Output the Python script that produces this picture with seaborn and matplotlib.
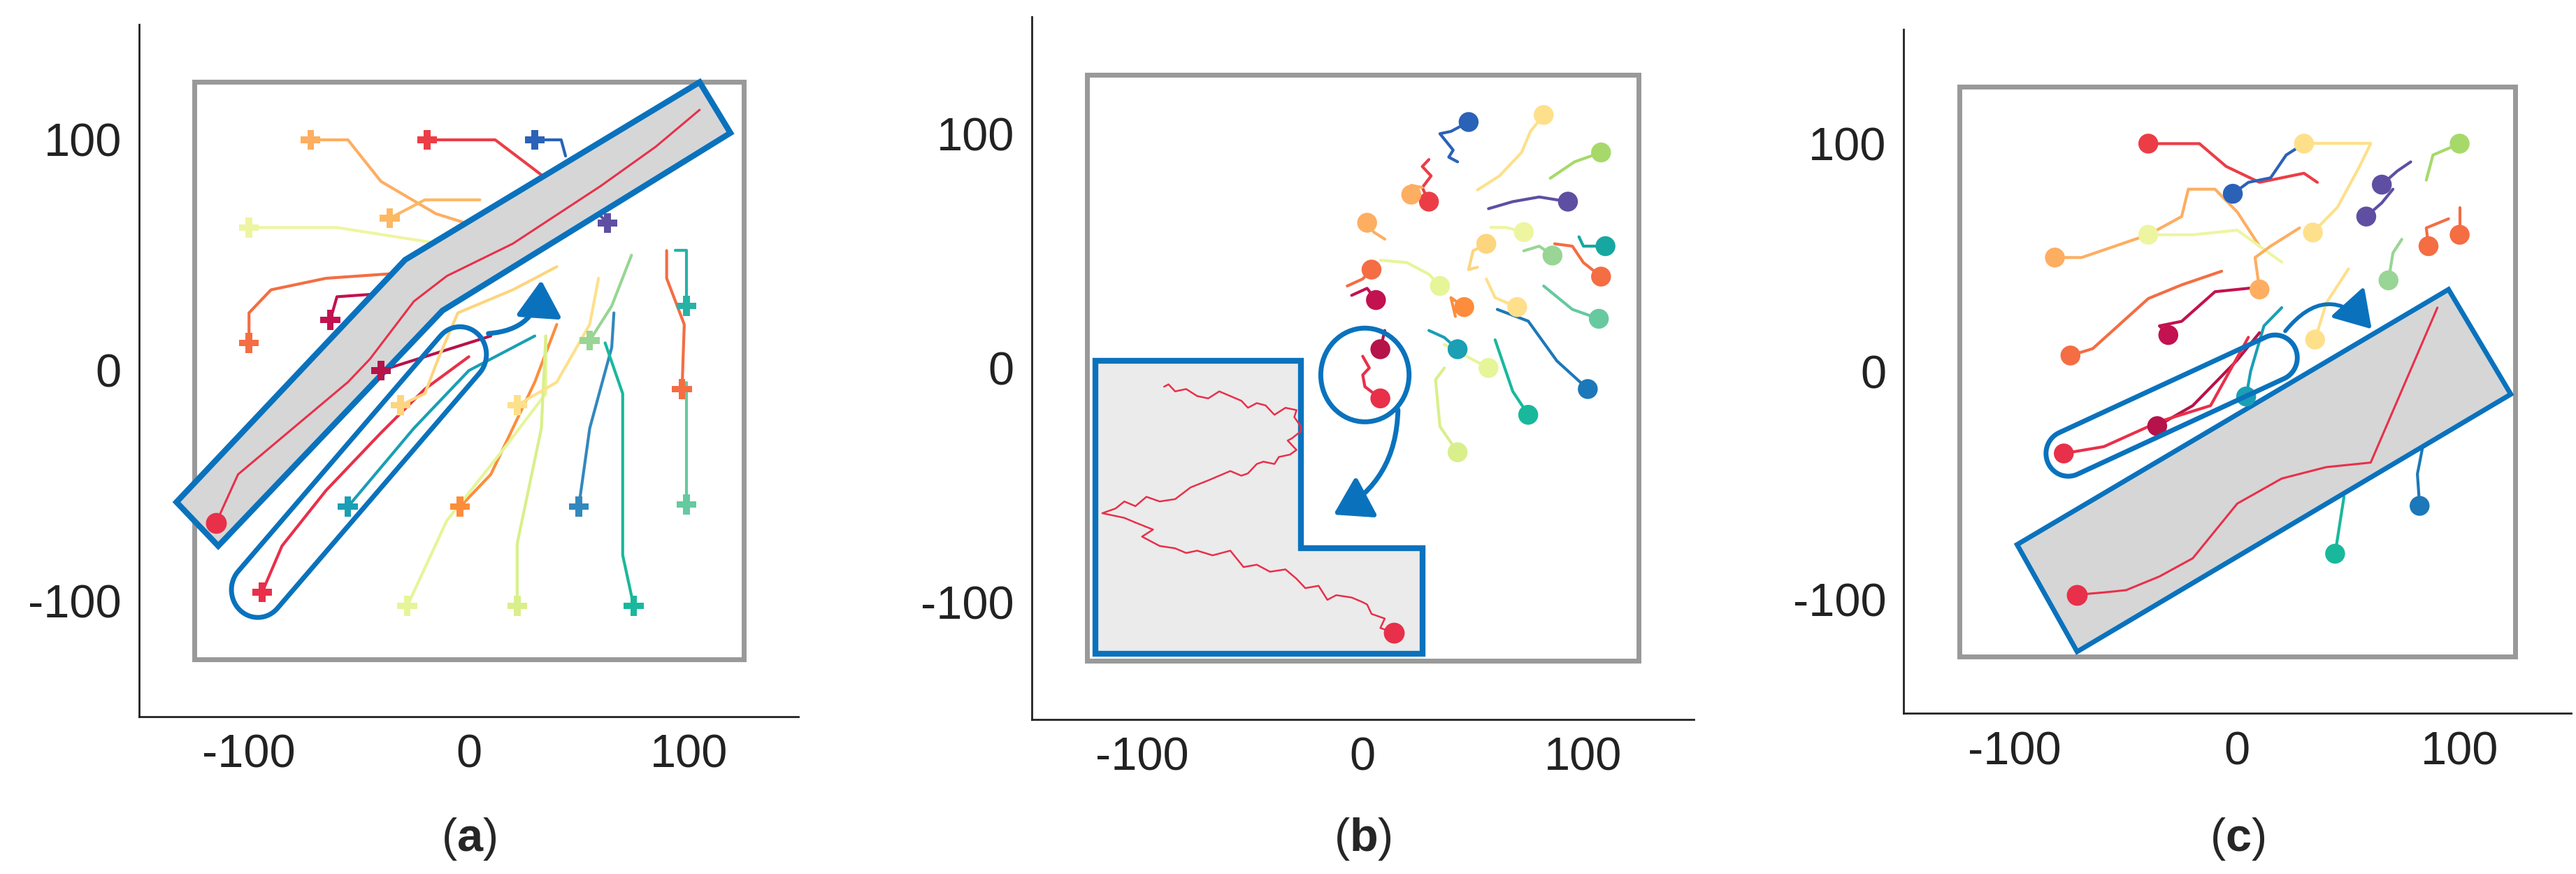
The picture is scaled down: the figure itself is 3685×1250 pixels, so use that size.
import numpy as np
import pandas as pd
import matplotlib.pyplot as plt
import seaborn as sns
from matplotlib.patches import Rectangle, Polygon, Circle, FancyArrowPatch

sns.set_style('white')
plt.rcParams['font.family'] = ['Liberation Sans', 'DejaVu Sans']
plt.rcParams['axes.unicode_minus'] = False
plt.rcParams['mathtext.fontset'] = 'custom'
plt.rcParams['mathtext.bf'] = 'Liberation Sans:bold'
plt.rcParams['mathtext.rm'] = 'Liberation Sans'

BLUE = '#0a72bd'

# ---- panel (a): trajectories, start point first (plus marker)
traj_a = [
    ('#fdae61', [(-72, 100), (-55, 100), (-40, 82), (-15, 68), (5, 62)]),
    ('#ec3d46', [(-19, 100), (12, 100), (30, 87), (45, 76)]),
    ('#2a62b8', [(30, 100), (42, 100), (44, 93)]),
    ('#eef5a0', [(-100, 62), (-60, 62), (-20, 56), (5, 52)]),
    ('#fdb863', [(-36, 66), (-20, 74), (5, 74)]),
    ('#5e4fa2', [(63, 64), (55, 72)]),
    ('#f46d43', [(-100, 12), (-100, 25), (-90, 35), (-65, 40), (-35, 42)]),
    ('#c2124f', [(-63, 22), (-60, 32), (-45, 33)]),
    ('#e8304a', [(-94, -96), (-85, -76), (-65, -52), (-40, -27), (-20, -8), (0, 6)]),
    ('#b5134a', [(-40, 0), (-20, 6), (10, 15)]),
    ('#fdd57e', [(-31, -15), (-20, -10), (-14, 5), (-5, 25), (20, 35), (40, 45)]),
    ('#1a9fb5', [(-55, -59), (-25, -25), (0, 0), (30, 15)]),
    ('#fd8d3c', [(-4, -59), (10, -45), (30, -5), (40, 20)]),
    ('#e6f598', [(-28, -102), (-10, -65), (15, -35), (35, -10), (35, 15)]),
    ('#d9ef8b', [(22, -102), (22, -75), (33, -25), (35, 15)]),
    ('#fee08b', [(22, -15), (40, -5), (55, 20), (59, 40)]),
    ('#3288bd', [(50, -59), (55, -25), (65, 10), (66, 25)]),
    ('#19b89c', [(75, -102), (70, -80), (70, -10), (62, 12)]),
    ('#99d594', [(55, 13), (65, 28), (74, 50)]),
    ('#f46d43', [(97, -8), (98, 20), (90, 40), (90, 52)]),
    ('#26b3a6', [(99, 28), (99, 52), (94, 52)]),
    ('#66c9a0', [(99, -58), (99, -5)]),
]
main_a = [(-115, -66), (-105, -45), (-80, -25), (-55, -5), (-45, 5), (-25, 30), (-10, 41),
          (20, 55), (60, 80), (85, 97), (105, 113)]
band_a = [(-133, -57), (-114, -76), (-12, 26), (119, 103), (105, 125), (-29, 48)]

# ---- panel (b): trajectories, end point first (dot marker)
traj_b = [
    ('#2a62b8', [(48, 105), (40, 101), (35, 100), (41, 93), (39, 90), (43, 88)]),
    ('#fee08b', [(82, 108), (76, 101), (72, 92), (62, 82), (52, 76)]),
    ('#a6d96a', [(108, 92), (96, 88), (85, 81)]),
    ('#ec3d46', [(30, 71), (27, 77), (31, 82), (27, 86), (30, 89)]),
    ('#fdae61', [(22, 74), (22, 78), (27, 77)]),
    ('#5e4fa2', [(93, 71), (80, 73), (68, 71), (57, 68)]),
    ('#fdae61', [(2, 62), (5, 58), (10, 55)]),
    ('#eef5a0', [(73, 58), (65, 60), (58, 60)]),
    ('#99d594', [(86, 48), (80, 52), (73, 50)]),
    ('#16a8a0', [(110, 52), (100, 52), (98, 56)]),
    ('#f46d43', [(108, 39), (100, 45), (95, 52), (87, 53)]),
    ('#fdd57e', [(56, 53), (50, 50), (48, 42), (52, 43)]),
    ('#f46d43', [(4, 42), (0, 38), (-7, 35)]),
    ('#c2124f', [(6, 29), (2, 34), (-5, 31)]),
    ('#e6f598', [(35, 35), (30, 40), (20, 45), (8, 46)]),
    ('#fd8d3c', [(46, 26), (40, 30), (42, 22)]),
    ('#fee08b', [(70, 26), (60, 30), (56, 38)]),
    ('#66c9a0', [(107, 21), (95, 25), (82, 35)]),
    ('#1c78b8', [(102, -9), (88, 3), (75, 20), (61, 25)]),
    ('#1a9fb5', [(43, 8), (37, 13), (30, 16)]),
    ('#e6f598', [(57, 0), (45, 6), (37, 10)]),
    ('#19b89c', [(75, -20), (68, -10), (60, 12)]),
    ('#d9ef8b', [(43, -36), (35, -25), (33, -5), (37, 0)]),
    ('#b5134a', [(8, 8), (10, 16)]),
    ('#e8304a', [(8, -13), (1, -8), (0, -3), (3, 0), (0, 5)]),
]
main_b = [(14, -113), (8, -111), (10, -107), (4, -105), (2, -101), (0, -100), (-5, -98),
          (-12, -97), (-16, -99), (-20, -93), (-26, -94), (-30, -90), (-35, -86), (-42, -87),
          (-48, -84), (-54, -85), (-60, -78), (-68, -80), (-75, -78), (-80, -79), (-85, -77),
          (-92, -76), (-100, -72), (-95, -69), (-103, -66), (-108, -64), (-118, -62), (-112, -60),
          (-108, -57), (-103, -59), (-98, -55), (-92, -57), (-85, -56), (-78, -51), (-70, -48),
          (-65, -46), (-60, -44), (-55, -46), (-52, -45), (-48, -41), (-45, -40), (-40, -41),
          (-38, -38), (-33, -37), (-30, -35), (-34, -31), (-32, -30), (-28, -27), (-28, -25),
          (-31, -21), (-30, -18), (-35, -17), (-40, -20), (-44, -16), (-48, -15), (-52, -17),
          (-55, -14), (-60, -12), (-65, -10), (-70, -13), (-75, -12), (-80, -9), (-85, -10),
          (-88, -7), (-90, -8)]
lshape_b = [(-121, 3), (-28, 3), (-28, -77), (27, -77), (27, -122), (-121, -122)]

# ---- panel (c): trajectories, end point first (dot marker)
traj_c = [
    ('#ec3d46', [(-40, 100), (-17, 100), (-5, 90), (10, 83), (30, 87), (36, 83)]),
    ('#2a62b8', [(-2, 78), (5, 83), (15, 85), (22, 95), (30, 100)]),
    ('#fee08b', [(30, 100), (60, 100)]),
    ('#a6d96a', [(100, 100), (88, 95), (85, 84)]),
    ('#5e4fa2', [(65, 82), (72, 88), (78, 92)]),
    ('#5e4fa2', [(58, 68), (65, 74), (70, 80)]),
    ('#fdae61', [(-82, 50), (-70, 50), (-40, 60), (-25, 68), (-22, 80), (-10, 80), (0, 70), (10, 55)]),
    ('#eef5a0', [(-40, 60), (-20, 60), (0, 62), (10, 55), (20, 48)]),
    ('#fee08b', [(34, 61), (45, 72), (55, 90), (60, 100)]),
    ('#fdae61', [(10, 36), (8, 50), (15, 55), (28, 63)]),
    ('#f46d43', [(-75, 7), (-65, 10), (-40, 32), (-25, 38), (-7, 44)]),
    ('#c2124f', [(-31, 16), (-35, 20), (-25, 22), (-10, 35), (10, 37)]),
    ('#f46d43', [(100, 60), (100, 72)]),
    ('#f46d43', [(86, 55), (85, 63), (95, 67)]),
    ('#99d594', [(68, 40), (70, 52), (74, 58)]),
    ('#1a9fb5', [(4, -11), (6, 0), (12, 20), (20, 28)]),
    ('#b5134a', [(-36, -24), (-20, -15), (0, 5), (10, 17)]),
    ('#e8304a', [(-78, -36), (-60, -33), (-35, -22), (-12, -15), (5, 15)]),
    ('#fee08b', [(35, 14), (40, 30), (50, 45)]),
    ('#19b89c', [(44, -80), (48, -55)]),
    ('#1c78b8', [(82, -59), (81, -45), (84, -30)]),
]
main_c = [(-72, -98), (-60, -97), (-50, -96), (-35, -90), (-20, -82), (0, -58), (20, -47),
          (40, -42), (60, -40), (90, 28)]
rect_c = [(-99, -76), (-72, -123), (123, -10), (95, 36)]

ticks = [-100, 0, 100]


def capsule(p0, p1, r):
    p0, p1 = np.array(p0, float), np.array(p1, float)
    d = p1 - p0
    ang = np.arctan2(d[1], d[0])
    t1 = np.linspace(ang - np.pi / 2, ang + np.pi / 2, 30)
    t0 = np.linspace(ang + np.pi / 2, ang + 3 * np.pi / 2, 30)
    pts = [p1 + r * np.array([np.cos(t), np.sin(t)]) for t in t1]
    pts += [p0 + r * np.array([np.cos(t), np.sin(t)]) for t in t0]
    return Polygon(pts, closed=True, fill=False, edgecolor=BLUE, lw=5, zorder=4)


def draw_trajs(ax, trajs, marker, ms):
    rows = []
    for i, (c, pts) in enumerate(trajs):
        for x, y in pts:
            rows.append({'id': i, 'x': x, 'y': y})
    df = pd.DataFrame(rows)
    pal = {i: c for i, (c, _) in enumerate(trajs)}
    sns.lineplot(data=df, x='x', y='y', hue='id', palette=pal, sort=False, estimator=None,
                 units='id', lw=3, legend=False, ax=ax, zorder=2)
    starts = df.groupby('id').first().reset_index()
    sns.scatterplot(data=starts, x='x', y='y', hue='id', palette=pal, marker=marker, s=ms,
                    linewidth=0, legend=False, ax=ax, zorder=3)


def draw_main(ax, pts, lw):
    xs, ys = zip(*pts)
    sns.lineplot(x=list(xs), y=list(ys), sort=False, estimator=None, color='#e8304a', lw=lw,
                 ax=ax, zorder=3)
    ax.scatter([xs[0]], [ys[0]], s=420, color='#e8304a', zorder=3.5)


def setup(ax, label):
    ax.set_xlim(-150, 150)
    ax.set_ylim(-150, 150)
    ax.add_patch(Rectangle((-125, -125), 250, 250, fill=False, edgecolor='#999999', lw=5, zorder=1))
    for s in ['top', 'right']:
        ax.spines[s].set_visible(False)
    for s in ['left', 'bottom']:
        ax.spines[s].set_color('#222222')
        ax.spines[s].set_linewidth(2)
    ax.set_xticks(ticks)
    ax.set_yticks(ticks)
    ax.tick_params(direction='in', length=8, width=2, labelsize=48, colors='#222222', pad=18)
    ax.set_xlabel('')
    ax.set_ylabel('')
    pos = ax.get_position()
    fig.text(pos.x0 + pos.width / 2, 0.04, r'($\mathbf{' + label + '}$)', ha='center',
             va='center', fontsize=48)


fig = plt.figure(figsize=(36.85, 12.5), dpi=100)
ax_a = fig.add_axes([0.054, 0.18, 0.256, 0.792])
ax_b = fig.add_axes([0.4005, 0.177, 0.257, 0.804])
ax_c = fig.add_axes([0.739, 0.184, 0.259, 0.782])

# (a)
draw_trajs(ax_a, traj_a, 'P', 420)
ax_a.add_patch(Polygon(band_a, closed=True, facecolor='#d6d6d6', edgecolor=BLUE, lw=6, zorder=2.5))
draw_main(ax_a, main_a, 2.2)
ax_a.add_patch(capsule((-96, -95), (-4, 7), 12))
ax_a.add_patch(FancyArrowPatch((8, 16), (33, 40), connectionstyle='arc3,rad=0.45',
                               arrowstyle='-|>,head_length=1.6,head_width=1.0', color=BLUE,
                               lw=5, mutation_scale=20, zorder=4))
setup(ax_a, 'a')

# (b)
ax_b.add_patch(Polygon(lshape_b, closed=True, facecolor='#ebebeb', edgecolor=BLUE, lw=6, zorder=1.5))
draw_trajs(ax_b, traj_b, 'o', 420)
draw_main(ax_b, main_b, 1.8)
ax_b.add_patch(Circle((1, -3), 20, fill=False, edgecolor=BLUE, lw=5, zorder=4))
ax_b.add_patch(FancyArrowPatch((16, -17), (-14, -63), connectionstyle='arc3,rad=-0.3',
                               arrowstyle='-|>,head_length=1.6,head_width=1.0', color=BLUE,
                               lw=5, mutation_scale=20, zorder=4))
setup(ax_b, 'b')

# (c)
draw_trajs(ax_c, traj_c, 'o', 420)
ax_c.add_patch(Polygon(rect_c, closed=True, facecolor='#d6d6d6', edgecolor=BLUE, lw=5, zorder=2.5))
draw_main(ax_c, main_c, 2.2)
ax_c.add_patch(capsule((-76, -36), (17, 6), 10))
ax_c.add_patch(FancyArrowPatch((21, 17), (61, 18), connectionstyle='arc3,rad=-0.6',
                               arrowstyle='-|>,head_length=1.6,head_width=1.0', color=BLUE,
                               lw=4, mutation_scale=20, zorder=4))
setup(ax_c, 'c')

fig.savefig('out.png', dpi=100)
